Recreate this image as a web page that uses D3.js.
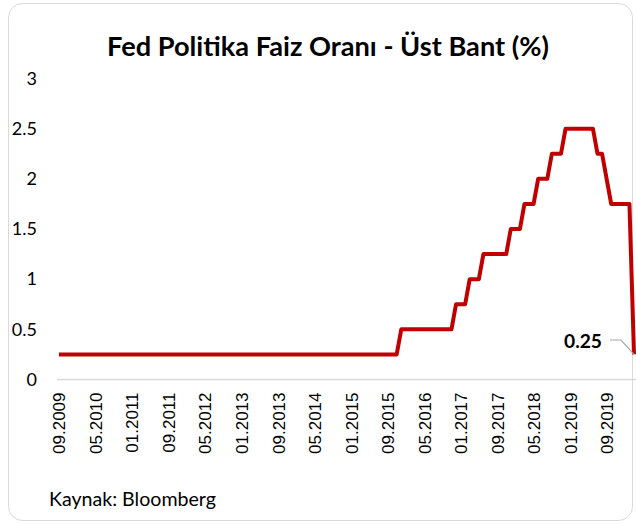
<!DOCTYPE html>
<html>
<head>
<meta charset="utf-8">
<script src="https://cdn.jsdelivr.net/npm/d3@7"></script>
<style>
	html, body { margin: 0; padding: 0; background: #fff; }
	svg { display: block; }
</style>
</head>
<body>
<div id="chart"></div>
<script>

var title = 'Fed Politika Faiz Oranı - Üst Bant (%)';
var source = 'Kaynak: Bloomberg';

// monthly upper band, 09.2009 .. 03.2020
var rates = [
	0.25, 0.25, 0.25, 0.25,                                                     // 2009 (09-12)
	0.25, 0.25, 0.25, 0.25, 0.25, 0.25, 0.25, 0.25, 0.25, 0.25, 0.25, 0.25,     // 2010
	0.25, 0.25, 0.25, 0.25, 0.25, 0.25, 0.25, 0.25, 0.25, 0.25, 0.25, 0.25,     // 2011
	0.25, 0.25, 0.25, 0.25, 0.25, 0.25, 0.25, 0.25, 0.25, 0.25, 0.25, 0.25,     // 2012
	0.25, 0.25, 0.25, 0.25, 0.25, 0.25, 0.25, 0.25, 0.25, 0.25, 0.25, 0.25,     // 2013
	0.25, 0.25, 0.25, 0.25, 0.25, 0.25, 0.25, 0.25, 0.25, 0.25, 0.25, 0.25,     // 2014
	0.25, 0.25, 0.25, 0.25, 0.25, 0.25, 0.25, 0.25, 0.25, 0.25, 0.25, 0.5,      // 2015
	0.5, 0.5, 0.5, 0.5, 0.5, 0.5, 0.5, 0.5, 0.5, 0.5, 0.5, 0.75,                // 2016
	0.75, 0.75, 1, 1, 1, 1.25, 1.25, 1.25, 1.25, 1.25, 1.25, 1.5,               // 2017
	1.5, 1.5, 1.75, 1.75, 1.75, 2, 2, 2, 2.25, 2.25, 2.25, 2.5,                 // 2018
	2.5, 2.5, 2.5, 2.5, 2.5, 2.5, 2.25, 2.25, 2, 1.75, 1.75, 1.75,              // 2019
	1.75, 1.75, 0.25                                                            // 2020 (01-03)
];

var xTicks = ['09.2009', '05.2010', '01.2011', '09.2011', '05.2012', '01.2013', '09.2013', '05.2014',
	'01.2015', '09.2015', '05.2016', '01.2017', '09.2017', '05.2018', '01.2019', '09.2019'];
var yTicks = [0, 0.5, 1, 1.5, 2, 2.5, 3];
var lastLabel = '0.25';

var fmt = d3.timeFormat('%m.%Y');
var months = d3.timeMonth.range(new Date(2009, 8, 1), new Date(2020, 3, 1)).map(fmt);

var W = 636, H = 524;
var svg = d3.select('#chart').append('svg').attr('width', W).attr('height', H);

// scale a text's font so that it spans the given width
function fit(sel, width) {
	var fs = parseFloat(sel.style('font-size'));
	var len = sel.node().getComputedTextLength();
	sel.style('font-size', (fs * width / len).toFixed(2) + 'px');
	return sel;
}

// card
svg.append('rect')
	.attr('x', 8.5).attr('y', 3.5)
	.attr('width', 624).attr('height', 517)
	.attr('rx', 14)
	.style('fill', '#fff').style('stroke', '#d9d9d9');

var x = d3.scalePoint().domain(months).range([59, 634]);
var y = d3.scaleLinear().domain([0, 3]).range([379.5, 78.5]);

svg.append('text')
	.attr('x', 328).attr('y', 56)
	.attr('text-anchor', 'middle')
	.style('font-family', 'Lato, sans-serif').style('font-weight', 'bold').style('font-size', '24px')
	.style('fill', '#000')
	.text(title)
	.call(fit, 442);

// y axis
var gy = svg.append('g').attr('transform', 'translate(42,0)')
	.call(d3.axisLeft(y).tickValues(yTicks).tickSize(0).tickPadding(5).tickFormat(function(d) { return String(d); }));
gy.select('.domain').remove();
gy.selectAll('text').style('font-family', 'Lato, sans-serif').style('font-size', '18px').style('fill', '#000');

// x axis line
svg.append('line')
	.attr('x1', 57).attr('x2', 636)
	.attr('y1', y(0)).attr('y2', y(0))
	.style('stroke', '#d9d9d9').style('stroke-width', 1.5);

var gx = svg.append('g').attr('transform', 'translate(0,' + y(0) + ')')
	.call(d3.axisBottom(x).tickValues(xTicks).tickSize(0));
gx.select('.domain').remove();
gx.selectAll('text')
	.attr('transform', 'rotate(-90)')
	.attr('x', -13).attr('y', 0).attr('dy', '0.35em')
	.attr('text-anchor', 'end')
	.style('font-family', '"Liberation Sans", Arial, sans-serif').style('font-size', '17px').style('fill', '#000');

// line
var line = d3.line()
	.x(function(d, i) { return x(months[i]); })
	.y(function(d) { return y(d); });

svg.append('path')
	.datum(rates)
	.attr('d', line)
	.style('fill', 'none')
	.style('stroke', '#c00000')
	.style('stroke-width', 4)
	.style('stroke-linejoin', 'round');

// last value label
var lx = x(months[months.length - 1]);
var ly = y(rates[rates.length - 1]);

svg.append('polyline')
	.attr('points', [[610, 340], [621, 340], [lx, ly]].join(' '))
	.style('fill', 'none').style('stroke', '#a6a6a6').style('stroke-width', 1.2);

svg.append('text')
	.attr('x', 602).attr('y', 341.5).attr('dy', '0.35em')
	.attr('text-anchor', 'end')
	.style('font-family', 'Lato, sans-serif').style('font-weight', 'bold').style('font-size', '17px')
	.style('fill', '#000')
	.text(lastLabel)
	.call(fit, 38);

svg.append('text')
	.attr('x', 49).attr('y', 506)
	.style('font-family', 'Lato, sans-serif').style('font-size', '16px')
	.style('fill', '#000')
	.text(source)
	.call(fit, 167);

</script>
</body>
</html>
